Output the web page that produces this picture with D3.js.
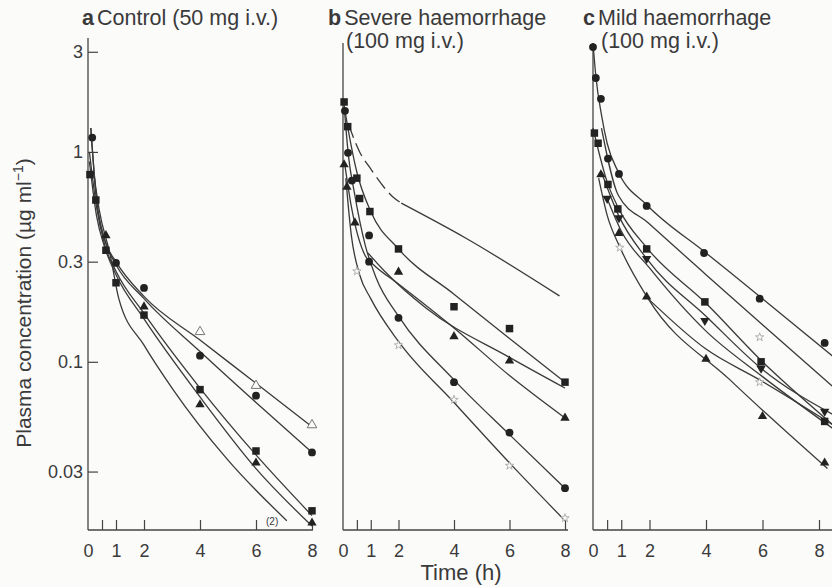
<!DOCTYPE html>
<html>
<head>
<meta charset="utf-8">
<script src="https://cdn.jsdelivr.net/npm/d3@7"></script>
<style>
  body { margin: 0; background: #fbfbfa; }
  text { font-family: "Liberation Sans", Arial, sans-serif; fill: #3a3a3a; }
</style>
</head>
<body>
<script>
// tick values / labels
var xTicks = [0, 0.5, 1, 2, 4, 6, 8];
var xTickLabels = ["0", "", "1", "2", "4", "6", "8"];
var yTicks = [3, 1, 0.3, 0.1, 0.03];
var yTickLabels = ["3", "1", "0.3", "0.1", "0.03"];

// panel titles
var panelLetters = ["a", "b", "c"];
var panelTitles = [["Control (50 mg i.v.)"], ["Severe haemorrhage", "(100 mg i.v.)"], ["Mild haemorrhage", "(100 mg i.v.)"]];

// ---- panel a : control, observed points [t (h), conc]
var aPoints = [
  { shape: "circle", pts: [[0.15, 1.17], [1, 0.296], [2, 0.225], [4, 0.107], [6, 0.069], [8, 0.037]] },
  { shape: "square", pts: [[0.07, 0.78], [0.28, 0.59], [0.64, 0.34], [1, 0.238], [2, 0.167], [4, 0.0737], [6, 0.0376], [8, 0.0195]] },
  { shape: "triangle", pts: [[0.64, 0.40], [2, 0.183], [4, 0.0625], [6, 0.033], [8, 0.0171]] },
  { shape: "openTriangle", pts: [[4, 0.139], [6, 0.077], [8, 0.05]] }
];
// panel a fitted curves
var aFits = [
  [[0.1, 1.3], [0.3, 0.6], [0.6, 0.38], [1, 0.3], [2, 0.205], [4, 0.127], [6, 0.079], [8, 0.049]],
  [[0.1, 1.3], [0.3, 0.6], [0.6, 0.38], [1, 0.29], [2, 0.2], [4, 0.112], [6, 0.064], [8, 0.037]],
  [[0.05, 1.0], [0.3, 0.55], [0.6, 0.36], [1, 0.27], [2, 0.17], [4, 0.075], [6, 0.036], [8, 0.0185]],
  [[0.05, 0.9], [0.3, 0.5], [0.6, 0.35], [1, 0.26], [2, 0.16], [4, 0.068], [6, 0.031], [8, 0.0165]],
  [[0.2, 0.8], [0.4, 0.53], [0.8, 0.32], [1.1, 0.2], [2, 0.12], [3, 0.075], [5, 0.034], [7.1, 0.0175]]
];

// ---- panel b : severe haemorrhage
var bPoints = [
  { shape: "square", pts: [[0.04, 1.73], [0.17, 1.32], [0.5, 0.75], [0.6, 0.6], [0.97, 0.52], [2, 0.345], [4, 0.183], [6, 0.144], [8, 0.080]] },
  { shape: "circle", pts: [[0.07, 1.57], [0.18, 0.99], [0.32, 0.73], [0.94, 0.40], [0.94, 0.30], [2, 0.162], [4, 0.080], [6, 0.046], [8, 0.025]] },
  { shape: "triangle", pts: [[0.04, 0.87], [0.14, 0.68], [0.43, 0.46], [2, 0.268], [4, 0.132], [6, 0.101], [8, 0.054]] },
  { shape: "openStar", pts: [[0.5, 0.27], [2, 0.12], [4, 0.066], [6, 0.032], [8, 0.018]] }
];
var bFits = [
  [[2.1, 0.57], [4.4, 0.39], [7.8, 0.206]],
  [[0, 1.8], [0.2, 1.25], [0.5, 0.8], [1, 0.52], [2, 0.345], [4, 0.21], [6, 0.129], [8, 0.08]],
  [[0.05, 1.6], [0.2, 0.95], [0.4, 0.65], [0.8, 0.36], [1.2, 0.25], [2, 0.165], [4, 0.082], [6, 0.045], [8, 0.025]],
  [[0.05, 0.9], [0.3, 0.55], [0.8, 0.32], [1.1, 0.29], [2, 0.235], [4, 0.145], [6, 0.086], [8, 0.054]],
  [[0.9, 0.33], [1.5, 0.27], [3, 0.18], [6, 0.105], [8, 0.075]],
  [[0.1, 0.75], [0.3, 0.4], [0.6, 0.26], [1, 0.2], [2, 0.125], [4, 0.064], [6, 0.033], [8, 0.0175]]
];
// dashed start of the top curve in b
var bDashed = [[0.2, 1.35], [0.6, 1.0], [1, 0.83], [1.8, 0.61], [2.1, 0.57]];

// ---- panel c : mild haemorrhage
var cPoints = [
  { shape: "circle", pts: [[0, 3.16], [0.1, 2.25], [0.28, 1.79], [0.53, 0.93], [0.92, 0.786], [1.9, 0.553], [3.93, 0.33], [5.9, 0.20], [8.2, 0.123]] },
  { shape: "square", pts: [[0.05, 1.23], [0.18, 1.10], [0.53, 0.70], [0.88, 0.535], [1.9, 0.345], [3.96, 0.193], [5.95, 0.10], [8.2, 0.052]] },
  { shape: "invTriangle", pts: [[0.5, 0.60], [0.92, 0.485], [1.9, 0.31], [3.96, 0.157], [5.95, 0.093], [8.2, 0.058]] },
  { shape: "triangle", pts: [[0.28, 0.78], [0.92, 0.41], [1.9, 0.204], [4, 0.103], [6, 0.055], [8.2, 0.033]] },
  { shape: "openStar", pts: [[0.95, 0.35], [5.9, 0.131], [5.9, 0.08]] }
];
var cFits = [
  [[0, 3.3], [0.1, 2.3], [0.3, 1.5], [0.5, 1.1], [0.9, 0.8], [1.9, 0.56], [4, 0.33], [6, 0.2], [8.5, 0.106]],
  [[0.3, 1.3], [0.9, 0.62], [1.95, 0.46], [4, 0.26], [6, 0.15], [8.5, 0.076]],
  [[0, 1.3], [0.5, 0.72], [0.9, 0.54], [1.9, 0.35], [4, 0.19], [6, 0.1], [8.5, 0.05]],
  [[0.3, 0.8], [0.9, 0.5], [1.9, 0.31], [4, 0.165], [6, 0.092], [8.5, 0.056]],
  [[0.5, 0.6], [1, 0.42], [2, 0.28], [4, 0.14], [6, 0.085], [8.5, 0.048]],
  [[0.2, 0.75], [0.5, 0.5], [0.96, 0.35], [1.95, 0.2], [4.85, 0.082], [8.3, 0.031]],
  [[1.95, 0.2], [4, 0.115], [5.9, 0.082], [8.5, 0.05]]
];

var w = 832, h = 587;
var svg = d3.select("body").append("svg")
    .attr("width", w)
    .attr("height", h);

// shared log scale for concentration
var y = d3.scaleLog().domain([0.0158, 3.49]).range([530, 38]);

var panels = [
  { x0: 88, x1: 312, end: 313, top: 38, points: aPoints, fits: aFits },
  { x0: 343, x1: 565, end: 568, top: 43, points: bPoints, fits: bFits, dashed: bDashed },
  { x0: 593, x1: 819, end: 832, top: 43, points: cPoints, fits: cFits }
];

var line = d3.line()
    .x(function(d) { return d[0]; })
    .y(function(d) { return d[1]; })
    .curve(d3.curveMonotoneX);

var symbolFor = {
  circle: d3.symbolCircle, square: d3.symbolSquare, triangle: d3.symbolTriangle,
  invTriangle: d3.symbolTriangle, openTriangle: d3.symbolTriangle, openStar: d3.symbolStar
};
var sizeFor = { circle: 48, square: 56, triangle: 38, invTriangle: 38, openTriangle: 40, openStar: 22 };

panels.forEach(function(p, i) {
  var x = d3.scaleLinear().domain([0, 8]).range([p.x0, p.x1]);
  var g = svg.append("g");

  // axis lines
  g.append("line").attr("x1", p.x0).attr("x2", p.x0).attr("y1", p.top).attr("y2", 530)
    .attr("stroke", "#444").attr("stroke-width", 1.3);
  g.append("line").attr("x1", p.x0).attr("x2", p.end).attr("y1", 530).attr("y2", 530)
    .attr("stroke", "#444").attr("stroke-width", 1.3);

  // x ticks (pointing inward)
  var xAxis = d3.axisBottom(x).tickValues(xTicks).tickSize(-10).tickPadding(14)
      .tickFormat(function(d, k) { return xTickLabels[k]; });
  var ax = g.append("g").attr("transform", "translate(0,530)").call(xAxis);
  ax.select(".domain").remove();
  ax.selectAll(".tick line").attr("stroke", "#444").attr("stroke-width", 1.2)
    .filter(function(d) { return d === 0; }).remove();
  ax.selectAll("text").attr("font-size", 18).style("font-family", null).attr("fill", "#4a4a4a");

  // y ticks only on first panel
  if (i === 0) {
    var yAxis = d3.axisLeft(y).tickValues(yTicks).tickSize(-10).tickPadding(5)
        .tickFormat(function(d, k) { return yTickLabels[k]; });
    var ay = g.append("g").attr("transform", "translate(" + p.x0 + ",0)").call(yAxis);
    ay.select(".domain").remove();
    ay.selectAll(".tick line").attr("stroke", "#444").attr("stroke-width", 1.2);
    ay.selectAll("text").attr("font-size", 18).style("font-family", null).attr("fill", "#4a4a4a");
  }

  // fitted curves
  p.fits.forEach(function(f) {
    g.append("path")
      .attr("d", line(f.map(function(d) { return [x(d[0]), y(d[1])]; })))
      .attr("fill", "none").attr("stroke", "#3a3a3a").attr("stroke-width", 1.3);
  });
  if (p.dashed) {
    g.append("path")
      .attr("d", line(p.dashed.map(function(d) { return [x(d[0]), y(d[1])]; })))
      .attr("fill", "none").attr("stroke", "#3a3a3a").attr("stroke-width", 1.3)
      .attr("stroke-dasharray", "14,6");
  }

  // observed points
  p.points.forEach(function(s) {
    var open = s.shape.indexOf("open") === 0;
    g.selectAll(null).data(s.pts).enter().append("path")
      .attr("d", d3.symbol().type(symbolFor[s.shape]).size(sizeFor[s.shape]))
      .attr("transform", function(d) {
        return "translate(" + x(d[0]) + "," + y(d[1]) + ")" + (s.shape === "invTriangle" ? " rotate(180)" : "");
      })
      .attr("fill", open ? "#fbfbfa" : "#222")
      .attr("stroke", open ? (s.shape === "openStar" ? "#aaa" : "#666") : "none")
      .attr("stroke-width", 0.9);
  });
});

// "(2)" annotation in panel a
svg.append("text").attr("x", 266).attr("y", 525).attr("font-size", 10).text("(2)");

// panel titles
var titleX = [82, 328, 583];
panelTitles.forEach(function(t, i) {
  var tt = svg.append("text").attr("x", titleX[i]).attr("y", 25).attr("font-size", 21.5).attr("fill", "#262626");
  tt.append("tspan").attr("font-weight", "bold").text(panelLetters[i]);
  tt.append("tspan").attr("dx", 3).text(t[0]);
  if (t[1]) {
    svg.append("text").attr("x", titleX[i] + 18).attr("y", 48).attr("font-size", 21.5)
      .attr("fill", "#262626").text(t[1]);
  }
});

// axis titles
var yl = svg.append("text")
    .attr("transform", "translate(31,303) rotate(-90)")
    .attr("text-anchor", "middle")
    .attr("font-size", 21)
    .attr("fill", "#333");
yl.append("tspan").text("Plasma concentration (µg ml");
yl.append("tspan").attr("dy", -8).attr("font-size", 14).text("−1");
yl.append("tspan").attr("dy", 8).text(")");

svg.append("text").attr("x", 461).attr("y", 580).attr("text-anchor", "middle")
    .attr("font-size", 22).attr("fill", "#333").text("Time (h)");
</script>
</body>
</html>
